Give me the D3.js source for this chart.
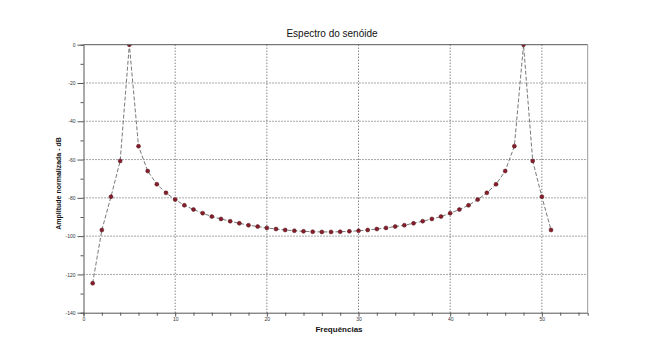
<!DOCTYPE html>
<html><head><meta charset="utf-8">
<script src="https://cdn.jsdelivr.net/npm/d3@7"></script>
<style>body{margin:0;background:#fff}svg{display:block}</style>
</head><body>
<svg id="c" width="672" height="357"></svg>
<script>
const freqs = d3.range(1, 52);
const amps = [-124.6,-96.8,-79.4,-60.7,0,-53,-66,-72.9,-77.4,-80.9,-83.9,-86.1,-88,-89.8,-91,-92.2,-93.3,-94.3,-95.0,-95.7,-96.3,-96.8,-97.2,-97.5,-97.7,-97.8,
  -97.8,-97.7,-97.5,-97.2,-96.8,-96.3,-95.7,-95.0,-94.3,-93.3,-92.2,-91,-89.8,-88,-86.1,-83.9,-80.9,-77.4,-72.9,-66,-53,0,-60.7,-79.4,-96.8];
const xTicks = [0,10,20,30,40,50];
const yTicks = [0,-20,-40,-60,-80,-100,-120,-140];
const title = "Espectro do senóide";
const xLabel = "Frequências";
const yLabel = "Amplitude normalizada - dB";

const svg = d3.select("#c");
const L = 83.5, R = 587.7, T = 44.7, B = 312.7;
const x = d3.scaleLinear().domain([0,55]).range([L,R]);
const y = d3.scaleLinear().domain([-140,0]).range([B,T]);

svg.append("clipPath").attr("id","clip").append("rect")
  .attr("x",L).attr("y",T).attr("width",R-L).attr("height",B-T);

// grid
const g = svg.append("g");
g.selectAll(".gx").data(xTicks.filter(d=>d>0)).join("line")
  .attr("x1",d=>x(d)).attr("x2",d=>x(d)).attr("y1",T).attr("y2",B)
  .attr("stroke","#222").attr("stroke-width",0.8).attr("stroke-dasharray","1,2");
g.selectAll(".gy").data(yTicks.filter(d=>d>-140 && d<0)).join("line")
  .attr("y1",d=>y(d)).attr("y2",d=>y(d)).attr("x1",L).attr("x2",R)
  .attr("stroke","#222").attr("stroke-width",0.8).attr("stroke-dasharray","1,2");

// line + points (clipped to plot area)
const plot = svg.append("g").attr("clip-path","url(#clip)");
const line = d3.line().x((d,i)=>x(freqs[i])).y(d=>y(d));
plot.append("path").datum(amps).attr("d",line).attr("fill","none")
  .attr("stroke","#555").attr("stroke-width",0.8).attr("stroke-dasharray","4,2");
plot.selectAll(".pt").data(amps).join("circle")
  .attr("cx",(d,i)=>x(freqs[i])).attr("cy",d=>y(d)).attr("r",2)
  .attr("fill","#8a1c2a").attr("stroke","#4a1a20").attr("stroke-width",0.5);

// frame
svg.append("line").attr("x1",L).attr("x2",R).attr("y1",T).attr("y2",T).attr("stroke","#555").attr("stroke-width",1);
svg.append("line").attr("x1",R).attr("x2",R).attr("y1",T).attr("y2",B).attr("stroke","#999").attr("stroke-width",1);

// axes
const xAxis = d3.axisBottom(x).tickValues(d3.range(0,56,2)).tickSize(3)
  .tickFormat(d => xTicks.includes(d) ? d : "");
const gx = svg.append("g").attr("transform",`translate(0,${B})`).call(xAxis);
gx.selectAll(".tick line").attr("y2", d => xTicks.includes(d) ? 4 : 3);
const yAxis = d3.axisLeft(y).tickValues(d3.range(-140,1,10)).tickSize(3)
  .tickFormat(d => yTicks.includes(d) ? d : "");
const gy = svg.append("g").attr("transform",`translate(${L},0)`).call(yAxis);
gy.selectAll(".tick line").attr("x2", d => yTicks.includes(d) ? -6 : -3);
[gx,gy].forEach(a=>{
  a.select(".domain").attr("stroke","#555").attr("stroke-width",1);
  a.selectAll(".tick line").attr("stroke","#555");
  a.selectAll("text").attr("font-family","Liberation Sans, Arial").attr("font-size",5).attr("fill","#333");
});
gy.selectAll("text").attr("x",-8);
gx.selectAll("text").attr("y",5);

// labels
svg.append("text").attr("x",332).attr("y",37).attr("text-anchor","middle")
  .attr("font-family","Liberation Sans, Arial").attr("font-size",10).attr("fill","#111").text(title);
svg.append("text").attr("x",339).attr("y",332).attr("text-anchor","middle")
  .attr("font-family","Liberation Sans, Arial").attr("font-size",8).attr("font-weight","bold").attr("fill","#111").text(xLabel);
svg.append("text").attr("transform","translate(61,183.5) rotate(-90)").attr("text-anchor","middle")
  .attr("font-family","Liberation Sans, Arial").attr("font-size",7).attr("font-weight","bold").attr("fill","#111").text(yLabel);
</script>
</body></html>
